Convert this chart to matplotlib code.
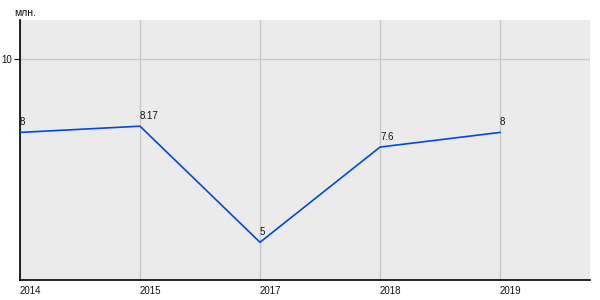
import matplotlib
matplotlib.use('Agg')
import matplotlib.pyplot as plt

# данные
years = ['2014', '2015', '2017', '2018', '2019']
values = [8, 8.17, 5, 7.6, 8]
value_labels = ['8', '8.17', '5', '7.6', '8']

plt.rcParams['font.family'] = ['Liberation Sans', 'DejaVu Sans']

fig = plt.figure(figsize=(6, 3), dpi=100)
ax = fig.add_axes([20 / 600, 20 / 300, 570 / 600, 260 / 300])
ax.set_facecolor('#ebebeb')

x = list(range(len(years)))
ax.plot(x, values, color='#0049e6', linewidth=1.2, zorder=3)

for xi, v, lab in zip(x, values, value_labels):
    ax.annotate(lab, (xi, v), xytext=(0, 4), textcoords='offset points',
                ha='left', va='bottom', fontsize=7, color='#111111')

ax.set_xlim(0, 4.75)
ax.set_ylim(3.97, 11.07)
ax.set_xticks(x)
ax.set_xticklabels(years, ha='left')
ax.set_yticks([10])
ax.set_yticklabels(['10'])
ax.tick_params(axis='x', length=0, labelsize=7, pad=4, colors='#111111')
ax.tick_params(axis='y', length=4, labelsize=7, pad=2, colors='#111111')
ax.grid(True, color='#c8c8c8', linewidth=1)
ax.set_axisbelow(True)

for side in ['top', 'right']:
    ax.spines[side].set_visible(False)
ax.spines['left'].set_linewidth(1.2)
ax.spines['bottom'].set_linewidth(1.2)

fig.text(14 / 600, 1 - 13 / 300, 'млн.', fontsize=7.5, ha='left', va='center', color='#111111')

fig.savefig('out.png', dpi=100, facecolor='white')
